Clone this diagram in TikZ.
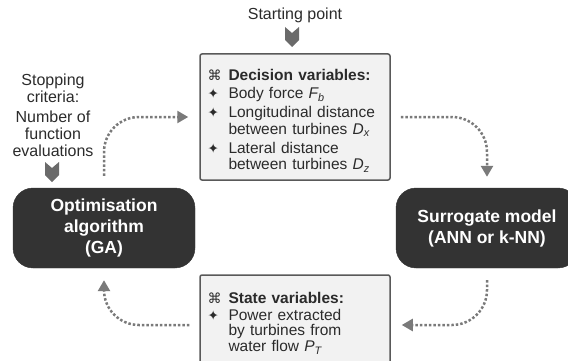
\documentclass[tikz,border=0pt]{standalone}
\usepackage{fontspec}
\setmainfont{Liberation Sans}
\newfontfamily\symfont{DejaVu Sans}
\usepackage{xcolor}
\usetikzlibrary{shapes,arrows.meta,positioning}

\definecolor{boxdark}{HTML}{333333}
\definecolor{boxlight}{HTML}{F2F2F2}
\definecolor{edgegray}{HTML}{595959}
\definecolor{flowgray}{HTML}{7A7A7A}
\definecolor{txtgray}{HTML}{2B2B2B}

\newcommand{\hdr}[1]{\rule{0pt}{19pt}\makebox[21pt][l]{\symfont\fontsize{14}{14}\selectfont ⌘}\textbf{#1}}
\newcommand{\itm}[1]{\makebox[21pt][l]{\symfont\fontsize{13.5}{13.5}\selectfont ✦}#1}
\newcommand{\cnt}[1]{\hspace*{21pt}#1}

\begin{document}
\begin{tikzpicture}[x=1pt, y=-1pt, text=txtgray, font=\fontsize{15.5}{16.5}\selectfont,
    algo/.style={draw=boxdark, fill=boxdark, rounded corners=20pt, minimum width=182pt, minimum height=80pt,
        text=white, align=center, font=\fontsize{17.5}{21}\selectfont\bfseries},
    varbox/.style={draw=edgegray, fill=boxlight, line width=1.5pt, rounded corners=2pt,
        text width=175pt, inner xsep=7.5pt, align=left},
    inarrow/.style={fill=edgegray!90},
    flow/.style={draw=flowgray, line width=2.5pt, dotted, rounded corners=35pt,
        -{Triangle[length=11pt, width=12pt]}}]
    \useasboundingbox (0,0) rectangle (568,361);
    \clip (0,0) rectangle (568,361);

    % Nodes
    \node[algo] (opt) at (104,228) {Optimisation\\algorithm\\(GA)};
    \node[algo] (sur) at (487,228) {Surrogate model\\(ANN or k-NN)};
    \node[varbox, minimum height=126pt] (dec) at (295,117) {%
        \hdr{Decision variables:}\\[1.5pt]
        \itm{Body force \textit{F\textsubscript{b}}}\\[2.5pt]
        \itm{Longitudinal distance}\\
        \cnt{between turbines \textit{D\textsubscript{x}}}\\[2.5pt]
        \itm{Lateral distance}\\
        \cnt{between turbines \textit{D\textsubscript{z}}}};
    \node[varbox, minimum height=89pt, font=\fontsize{15.5}{15.5}\selectfont] (state) at (295,319.5) {%
        \hdr{State variables:}\\[1pt]
        \itm{Power extracted}\\
        \cnt{by turbines from}\\
        \cnt{water flow \textit{P\textsubscript{T}}}};

    % Inputs
    \node[font=\fontsize{16}{17}\selectfont] (startpt) at (295,15) {Starting point};
    \coordinate (startarr) at (285,27);
    \fill[inarrow] (startarr) -- ++(7,6) -- ++(7,-6) -- ++(0,13) -- ++(-7,7) -- ++(-7,-7) -- cycle;
    \node[align=center, font=\fontsize{16}{17}\selectfont] (stopcrit) at (53,115)
        {Stopping\\criteria:\\[3pt]Number of\\function\\evaluations};
    \coordinate (stoparr) at (45,162);
    \fill[inarrow] (stoparr) -- ++(7,6) -- ++(7,-6) -- ++(0,13) -- ++(-7,7) -- ++(-7,-7) -- cycle;

    % Arrows
    \draw[flow] ([yshift=12pt]opt.north) |- ([xshift=-11pt]dec.west);
    \draw[flow] ([xshift=10pt]dec.east) -| ([yshift=11pt]sur.north);
    \draw[flow] ([yshift=-12pt]sur.south) |- ([xshift=11pt, yshift=-5.5pt]state.east);
    \draw[flow] ([xshift=-10pt, yshift=-5.5pt]state.west) -| ([yshift=-12pt]opt.south);
\end{tikzpicture}
\end{document}
